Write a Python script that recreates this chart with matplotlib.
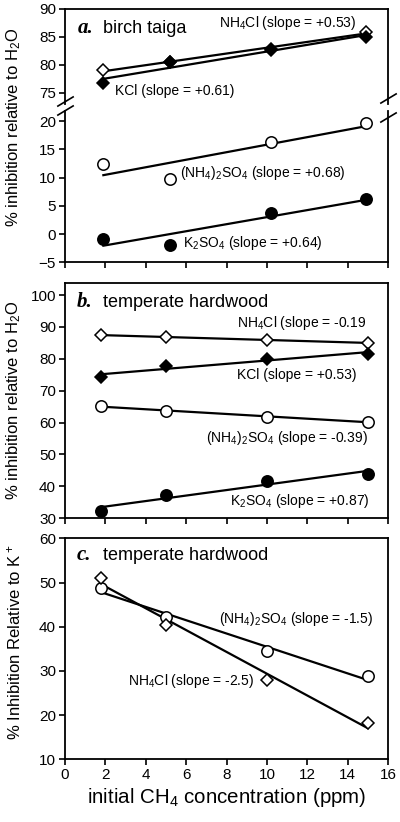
import numpy as np
import matplotlib
matplotlib.use("Agg")
import matplotlib.pyplot as plt

plt.rcParams['font.family'] = ['Liberation Sans', 'DejaVu Sans']
plt.rcParams['mathtext.fontset'] = 'custom'
plt.rcParams['mathtext.rm'] = 'Liberation Sans'
plt.rcParams['mathtext.default'] = 'regular'

# initial CH4 concentration (ppm)
x_a = [1.9, 5.2, 10.2, 14.9]
x_bc = [1.8, 5.0, 10.0, 15.0]

# a. birch taiga - % inhibition relative to H2O
a_nh4cl = [79.0, 80.5, 82.9, 85.8]
a_kcl = [76.7, 80.5, 82.6, 85.0]
a_nh42so4 = [12.5, 9.7, 16.35, 19.6]
a_k2so4 = [-0.8, -1.9, 3.7, 6.2]

# b. temperate hardwood - % inhibition relative to H2O
b_nh4cl = [87.6, 86.7, 85.8, 85.1]
b_kcl = [74.4, 77.6, 80.0, 81.6]
b_nh42so4 = [65.3, 63.5, 61.8, 60.3]
b_k2so4 = [32.4, 37.2, 41.6, 44.0]

# c. temperate hardwood - % inhibition relative to K+
c_nh42so4 = [48.7, 42.3, 34.4, 28.75]
c_nh4cl = [51.1, 40.4, 28.0, 18.2]

fig = plt.figure(figsize=(4, 8.22), dpi=100)
L, W = 0.1625, 0.8075
ax_a1 = fig.add_axes([L, 0.8735, W, 0.1156])
ax_a2 = fig.add_axes([L, 0.6807, W, 0.1843])
ax_b = fig.add_axes([L, 0.3695, W, 0.2859])
ax_c = fig.add_axes([L, 0.0763, W, 0.2688])


def style(ax):
    for s in ax.spines.values():
        s.set_linewidth(1.3)
    ax.tick_params(direction='out', length=4.5, width=1.2, labelsize=11,
                   top=False, right=False, pad=2)
    ax.set_xlim(0, 16)
    ax.set_xticks(np.arange(0, 17, 2))


def series(ax, x, y, marker, filled, ms, z=3):
    # least-squares line drawn between first and last point
    k = np.polyfit(x, y, 1)
    xs = np.array([x[0], x[-1]])
    ax.plot(xs, np.polyval(k, xs), color='k', lw=1.6, zorder=2)
    ax.plot(x, y, linestyle='none', marker=marker, ms=ms,
            mfc='k' if filled else 'white', mec='k', mew=1.1,
            zorder=z, clip_on=False)


for ax in (ax_a1, ax_a2, ax_b, ax_c):
    style(ax)

FS = 10
DM = 6.0   # diamond size
CM = 8.2   # circle size

# panel a (broken axis)
series(ax_a1, x_a, a_nh4cl, 'D', False, DM, 3)
series(ax_a1, x_a, a_kcl, 'D', True, DM, 4)
series(ax_a2, x_a, a_nh42so4, 'o', False, CM)
series(ax_a2, x_a, a_k2so4, 'o', True, CM)
ax_a1.set_ylim(73.0, 90)
ax_a1.set_yticks([75, 80, 85, 90])
ax_a1.spines['bottom'].set_visible(False)
ax_a1.tick_params(bottom=False, labelbottom=False)
ax_a2.set_ylim(-5, 21.8)
ax_a2.set_yticks(np.arange(-5, 21, 5))
ax_a2.spines['top'].set_visible(False)
ax_a2.tick_params(labelbottom=False)

brk = dict(marker=[(-1, -0.6), (1, 0.6)], markersize=12, linestyle='none',
           color='k', mec='k', mew=1.2, clip_on=False)
ax_a1.plot([0, 1], [0.03, 0.06], transform=ax_a1.transAxes, **brk)
ax_a2.plot([0, 1], [1.005, 0.96], transform=ax_a2.transAxes, **brk)

ax_a1.text(7.65, 86.8, 'NH$_4$Cl (slope = +0.53)', fontsize=FS)
ax_a1.text(2.5, 74.6, 'KCl (slope = +0.61)', fontsize=FS)
ax_a2.text(5.7, 10.1, '(NH$_4$)$_2$SO$_4$ (slope = +0.68)', fontsize=FS)
ax_a2.text(5.85, -2.3, 'K$_2$SO$_4$ (slope = +0.64)', fontsize=FS)

# panel b
series(ax_b, x_bc, b_nh4cl, 'D', False, DM)
series(ax_b, x_bc, b_kcl, 'D', True, DM)
series(ax_b, x_bc, b_nh42so4, 'o', False, CM)
series(ax_b, x_bc, b_k2so4, 'o', True, CM)
ax_b.set_ylim(30, 103.7)
ax_b.set_yticks(np.arange(30, 101, 10))
ax_b.tick_params(labelbottom=False)
ax_b.text(8.5, 90.1, 'NH$_4$Cl (slope = -0.19', fontsize=FS)
ax_b.text(8.5, 73.6, 'KCl (slope = +0.53)', fontsize=FS)
ax_b.text(7.0, 54.0, '(NH$_4$)$_2$SO$_4$ (slope = -0.39)', fontsize=FS)
ax_b.text(8.15, 34.2, 'K$_2$SO$_4$ (slope = +0.87)', fontsize=FS)

# panel c
series(ax_c, x_bc, c_nh42so4, 'o', False, CM)
series(ax_c, x_bc, c_nh4cl, 'D', False, DM)
ax_c.set_ylim(10, 60)
ax_c.set_yticks(np.arange(10, 61, 10))
ax_c.text(7.65, 40.9, '(NH$_4$)$_2$SO$_4$ (slope = -1.5)', fontsize=FS)
ax_c.text(3.1, 26.8, 'NH$_4$Cl (slope = -2.5)', fontsize=FS)
ax_c.set_xlabel('initial CH$_4$ concentration (ppm)', fontsize=14.8, labelpad=3)

# panel titles
letter = dict(fontsize=15, family='Liberation Serif', weight='bold', style='italic')
fig.text(0.195, 0.9599, 'a.', **letter)
fig.text(0.2575, 0.9599, 'birch taiga', fontsize=13)
fig.text(0.1925, 0.6269, 'b.', **letter)
fig.text(0.2575, 0.6269, 'temperate hardwood', fontsize=13)
fig.text(0.1925, 0.3187, 'c.', **letter)
fig.text(0.2575, 0.3187, 'temperate hardwood', fontsize=13)

# y labels
fig.text(0.035, 0.845, '% inhibition relative to H$_2$O', fontsize=12,
         rotation=90, ha='center', va='center')
fig.text(0.035, 0.5134, '% inhibition relative to H$_2$O', fontsize=12,
         rotation=90, ha='center', va='center')
fig.text(0.035, 0.219, '% Inhibition Relative to K$^+$', fontsize=12,
         rotation=90, ha='center', va='center')

fig.savefig('out.png', dpi=100)
